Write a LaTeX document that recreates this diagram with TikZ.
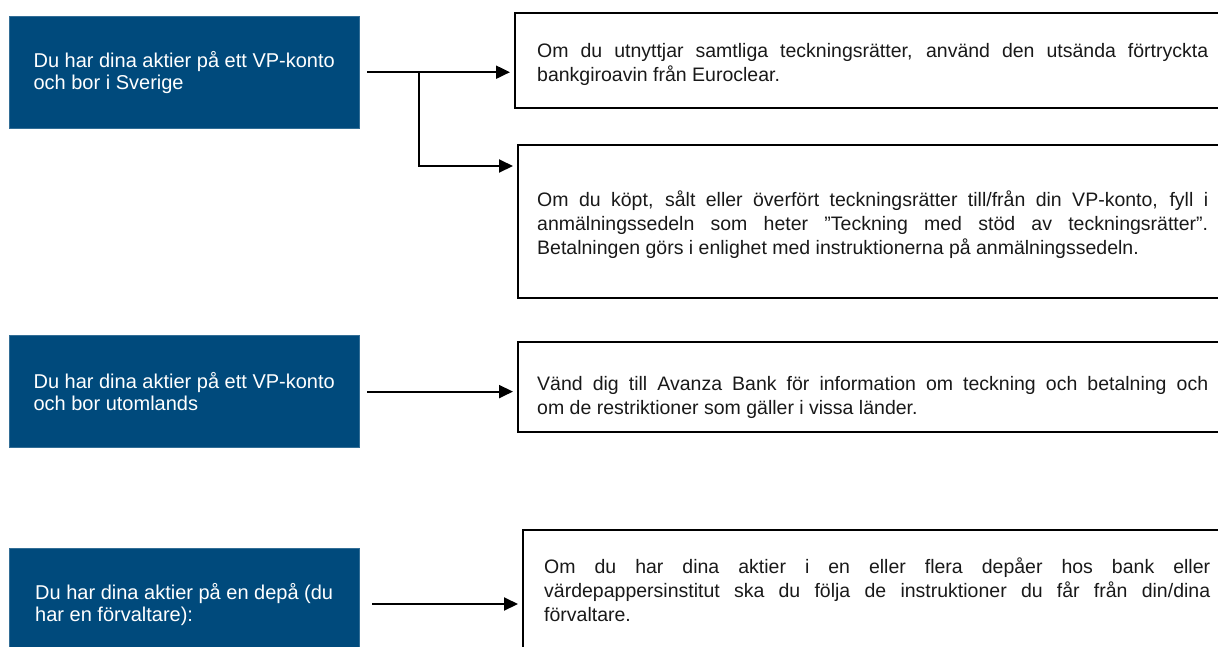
\documentclass[tikz,border=0pt]{standalone}
\usepackage{fontspec}
\setmainfont{Liberation Sans}
\usetikzlibrary{arrows.meta, positioning}
\definecolor{depablue}{RGB}{0,74,124}
\hyphenpenalty=10000
\exhyphenpenalty=10000

\begin{document}
\begin{tikzpicture}[
    x=1pt, y=-1pt,
    ask/.style={rectangle, fill=depablue, draw=depablue!80!white, text=white, minimum width=350pt, minimum height=112pt, inner xsep=21pt, align=left, font=\fontsize{20}{22}\selectfont},
    answer/.style={rectangle, draw=black, line width=1.6pt, anchor=north west, minimum width=720pt},
    answertext/.style={inner sep=0pt, text width=671pt, align=justify, text=black!90, font=\fontsize{19.5}{24}\selectfont},
    arrow/.style={-{Triangle[length=14pt, width=13pt]}, line width=2pt, shorten >=4pt, shorten <=8pt}
]
\clip (0,0) rectangle (1218,646);

% questions
\node[ask, anchor=north west] (own) at (9,16) {Du har dina aktier på ett VP-konto\\och bor i Sverige};
\node[ask, below=207pt of own] (abroad) {Du har dina aktier på ett VP-konto\\och bor utomlands};
\node[ask, below=100pt of abroad] (nominee) {Du har dina aktier på en depå (du\\har en förvaltare):};

% answers
\node[answer, minimum height=95pt] (inst1) at (514,12) {};
\node[answer, minimum height=153pt] (inst2) at (517,144) {};
\node[answer, minimum height=90pt] (inst3) at (517,341) {};
\node[answer, minimum height=140pt] (inst4) at (522,529) {};

\node[answertext, below right=31pt and 23pt of inst1.north west] (inst1txt) {Om du utnyttjar samtliga teckningsrätter, använd den utsända förtryckta\linebreak bankgiroavin från Euroclear.};
\node[answertext, below right=47pt and 20pt of inst2.north west] (inst2txt) {Om du köpt, sålt eller överfört teckningsrätter till/från din VP-konto, fyll i\linebreak anmälningssedeln som heter ”Teckning med stöd av teckningsrätter”.\linebreak Betalningen görs i enlighet med instruktionerna på anmälningssedeln.};
\node[answertext, below right=35pt and 20pt of inst3.north west] (inst3txt) {Vänd dig till Avanza Bank för information om teckning och betalning och\linebreak om de restriktioner som gäller i vissa länder.};
\node[answertext, text width=666pt, below right=29pt and 22pt of inst4.north west] (inst4txt) {Om du har dina aktier i en eller flera depåer hos bank eller\linebreak värdepappersinstitut ska du följa de instruktioner du får från din/dina\linebreak förvaltare.};

% connectors
\coordinate[right=60pt of own.east] (fork);
\draw[arrow] (own.east) -- (own.east -| inst1.west);
\draw[arrow, shorten <=0pt] (fork) |- ([yshift=-22pt]inst2.north west);
\draw[arrow] (abroad.east) -- (abroad.east -| inst3.west);
\draw[arrow, shorten <=13pt] (nominee.east) -- (nominee.east -| inst4.west);

\end{tikzpicture}
\end{document}
